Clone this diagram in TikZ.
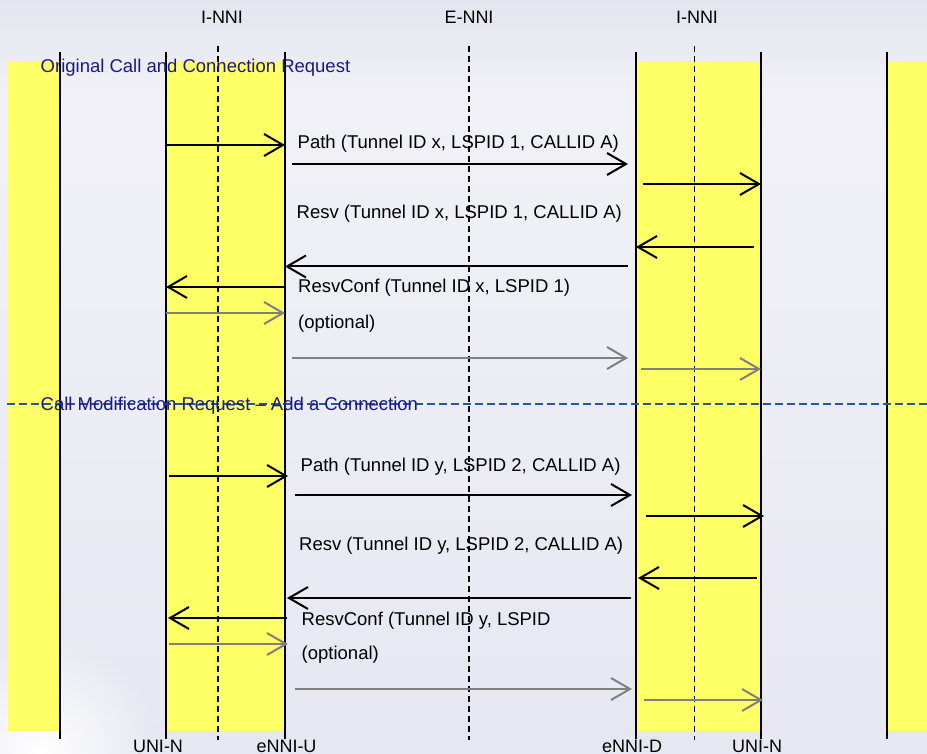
\documentclass[tikz,border=0pt]{standalone}
\usepackage{fontspec}
\setmainfont{Liberation Sans}
\usepackage{xcolor}
\definecolor{bghead}{RGB}{228,229,238}
\definecolor{bglight}{RGB}{241,241,247}
\definecolor{bgbody}{RGB}{230,231,241}
\definecolor{band}{RGB}{255,255,102}
\definecolor{navy}{RGB}{25,25,140}
\definecolor{sepblue}{RGB}{45,85,145}
\definecolor{optgray}{RGB}{128,128,128}
\usetikzlibrary{arrows.meta,positioning,fadings}
\tikzfading[name=cornerfade, inner color=transparent!0, outer color=transparent!100]

\begin{document}
\begin{tikzpicture}[x=1pt, y=-1pt,
  lane/.style={line width=2pt},
  border/.style={line width=1.6pt, dash pattern=on 6pt off 4pt},
  msg/.style={-{Straight Barb[length=19pt, width=22pt]}, line width=2pt},
  optmsg/.style={msg, color=optgray},
  msglabel/.style={anchor=base west, inner sep=0pt, font=\fontsize{18.5}{22}\selectfont},
  sectlabel/.style={msglabel, text=navy},
  iflabel/.style={anchor=base, inner sep=0pt, font=\fontsize{18}{22}\selectfont},
  sepline/.style={line width=1.5pt, color=sepblue, dash pattern=on 8pt off 4pt}
]
\useasboundingbox (0,0) rectangle (927,754);
\shade[top color=bghead, bottom color=bglight] (0,0) rectangle (927,100);
\shade[top color=bglight, bottom color=bgbody] (0,100) rectangle (927,754);
\fill[white, path fading=cornerfade] (40,754) circle (120);

% yellow domains
\fill[band] (8,61) rectangle (60,731);
\fill[band] (166,61) rectangle (285,731);
\fill[band] (636,61) rectangle (761,731);
\fill[band] (887,61) rectangle (927,731);

% lanes and interfaces
\coordinate (edgeL) at (60,52);
\coordinate (uniU) at (166,52);
\coordinate (ennU) at (285,52);
\coordinate (ennD) at (636,52);
\coordinate (uniD) at (761,52);
\coordinate (edgeR) at (887,52);
\coordinate (inniU) at (218,46);
\coordinate (enni) at (469,46);
\coordinate (inniD) at (694.5,46);
\foreach \l in {edgeL,uniU,ennU,ennD,uniD,edgeR}
  \draw[lane] (\l) -- (\l |- 0,739);
\foreach \l in {inniU,enni,inniD}
  \draw[border] (\l) -- (\l |- 0,740);

\node[iflabel] (hInniU) at (222,24) {I-NNI};
\node[iflabel] (hEnni) at (469,24) {E-NNI};
\node[iflabel] (hInniD) at (697,24) {I-NNI};

\node[iflabel] (fUniU) at (158,752) {UNI-N};
\node[iflabel] (fEnnU) at (286.5,752) {eNNI-U};
\node[iflabel] (fEnnD) at (632,752) {eNNI-D};
\node[iflabel] (fUniD) at (757,752) {UNI-N};

% original call and connection request
\node[sectlabel] (secOrig) at (40.5,72.5) {Original Call and Connection Request};
\draw[msg] (uniU |- 0,145) -- (ennU |- 0,145);
\node[msglabel] (pathX) at (297.5,149) {Path (Tunnel ID x, LSPID 1, CALLID A)};
\draw[msg, shorten <=7pt, shorten >=8pt] (ennU |- 0,164) -- (ennD |- 0,164);
\draw[msg, shorten <=7pt] (ennD |- 0,184) -- (uniD |- 0,184);
\node[msglabel] (resvX) at (296.5,219) {Resv (Tunnel ID x, LSPID 1, CALLID A)};
\draw[msg, shorten <=7pt] (uniD |- 0,247) -- (ennD |- 0,247);
\draw[msg, shorten <=8pt] (ennD |- 0,266.5) -- (ennU |- 0,266.5);
\draw[msg] (ennU |- 0,287) -- (uniU |- 0,287);
\node[msglabel] (confX) at (298,293) {ResvConf (Tunnel ID x, LSPID 1)};
\draw[optmsg] (uniU |- 0,313) -- (ennU |- 0,313);
\node[msglabel] (optX) at (298,329) {(optional)};
\draw[optmsg, shorten <=7pt, shorten >=8pt] (ennU |- 0,358) -- (ennD |- 0,358);
\draw[optmsg, shorten <=5pt] (ennD |- 0,369) -- (uniD |- 0,369);

% call modification request
\coordinate (sepL) at (7,404);
\coordinate (sepR) at (927,404);
\draw[sepline] (sepL) -- (sepR);
\node[sectlabel] (secMod) at (40.5,410.5) {Call Modification Request – Add a Connection};
\draw[msg, shorten <=3pt, shorten >=-3pt] (uniU |- 0,476) -- (ennU |- 0,476);
\node[msglabel] (pathY) at (300.5,471.5) {Path (Tunnel ID y, LSPID 2, CALLID A)};
\draw[msg, shorten <=10pt, shorten >=4pt] (ennU |- 0,495) -- (ennD |- 0,495);
\draw[msg, shorten <=10pt, shorten >=-3pt] (ennD |- 0,516) -- (uniD |- 0,516);
\node[msglabel] (resvY) at (299,550) {Resv (Tunnel ID y, LSPID 2, CALLID A)};
\draw[msg, shorten <=4pt, shorten >=2pt] (uniD |- 0,578) -- (ennD |- 0,578);
\draw[msg, shorten <=5pt, shorten >=2pt] (ennD |- 0,598) -- (ennU |- 0,598);
\draw[msg, shorten <=-2pt, shorten >=2pt] (ennU |- 0,618) -- (uniU |- 0,618);
\node[msglabel] (confY) at (301.5,625) {ResvConf (Tunnel ID y, LSPID};
\draw[optmsg, shorten <=3pt, shorten >=-3pt] (uniU |- 0,644) -- (ennU |- 0,644);
\node[msglabel] (optY) at (301.5,659) {(optional)};
\draw[optmsg, shorten <=10pt, shorten >=4pt] (ennU |- 0,689) -- (ennD |- 0,689);
\draw[optmsg, shorten <=8pt, shorten >=-2pt] (ennD |- 0,700) -- (uniD |- 0,700);
\end{tikzpicture}
\end{document}
